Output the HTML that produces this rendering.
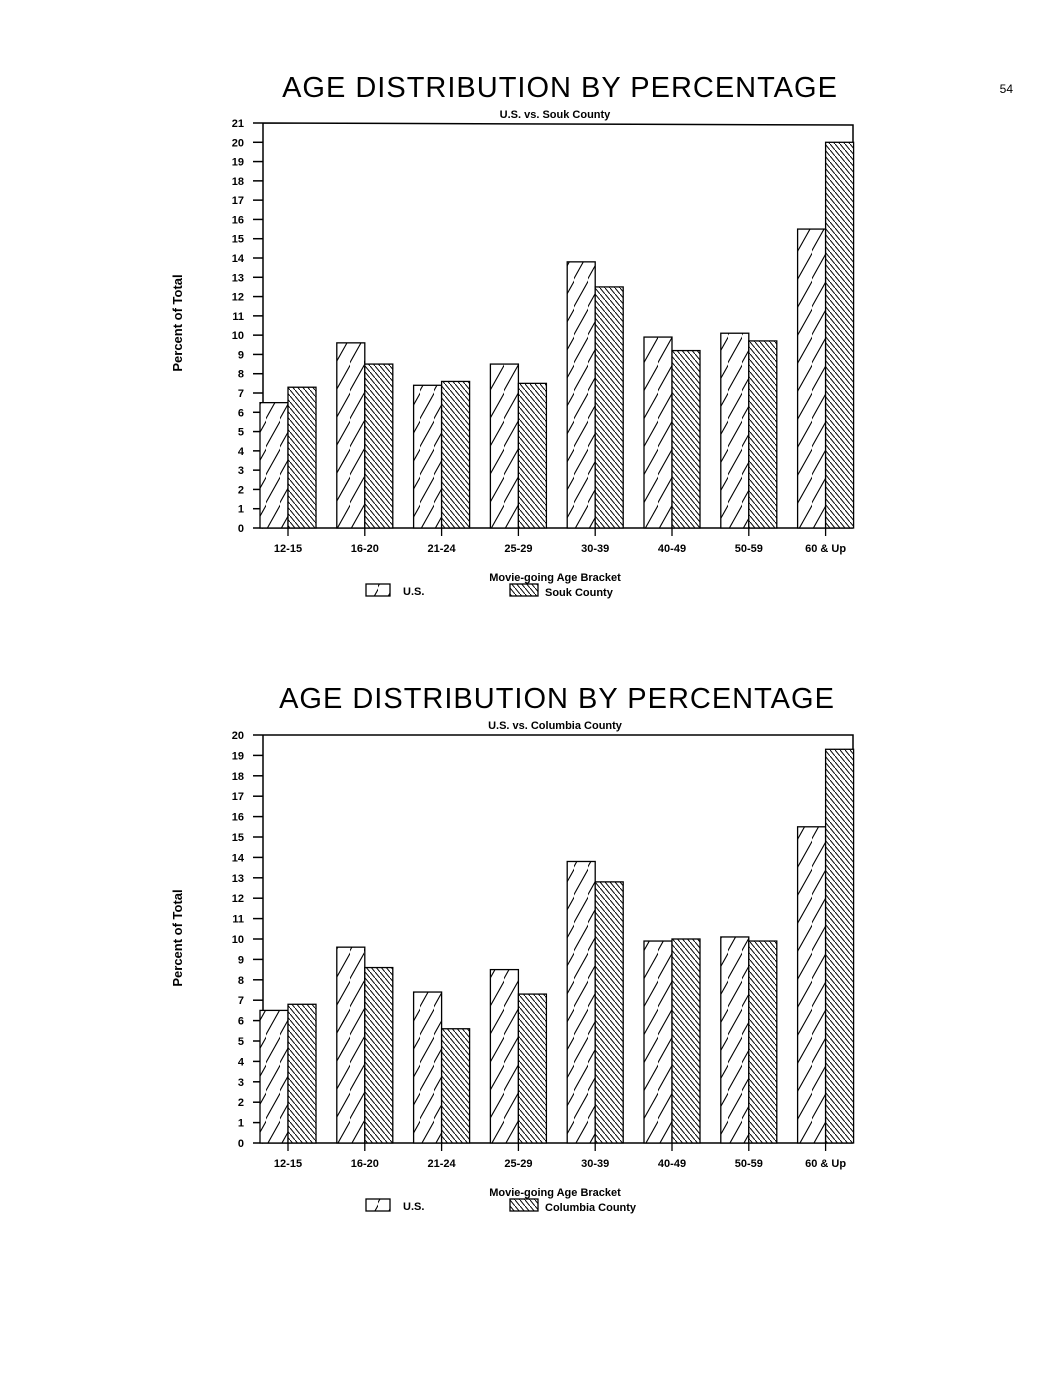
<!DOCTYPE html>
<html><head><meta charset="utf-8"><style>
html,body{margin:0;padding:0;background:#fff;}
svg{display:block;font-family:"Liberation Sans",sans-serif;}
</style></head><body>
<svg width="1064" height="1380" viewBox="0 0 1064 1380" xmlns="http://www.w3.org/2000/svg">
<defs>
<pattern id="us" patternUnits="userSpaceOnUse" width="14" height="28"><rect width="14" height="28" fill="#fff"/><path d="M-2,30 L16,-2" stroke="#000" stroke-width="1.1"/></pattern>
<pattern id="co" patternUnits="userSpaceOnUse" width="5" height="6"><rect width="5" height="6" fill="#fff"/><path d="M0,0 L5,6" stroke="#000" stroke-width="1"/></pattern>
</defs>
<text x="1013" y="93" font-size="12" text-anchor="end">54</text>
<g id="c1">
<text x="560" y="97" font-size="29" text-anchor="middle" letter-spacing="1">AGE DISTRIBUTION BY PERCENTAGE</text>
<text x="555" y="118" font-size="11" text-anchor="middle" font-weight="bold">U.S. vs. Souk County</text>
<text transform="translate(182,323) rotate(-90)" font-size="13" text-anchor="middle" font-weight="bold">Percent of Total</text>
<g stroke="#000" stroke-width="1.5" fill="none">
<path d="M263,123 L853,125 L853,528 M263,123 L263,528 L853,528"/>
</g>
<g font-size="11" text-anchor="end" font-weight="bold">
<script>/*noop*/</script>
</g>
<g id="ax1"></g>
</g>
<g id="c2">
<text x="557" y="708" font-size="29" text-anchor="middle" letter-spacing="1">AGE DISTRIBUTION BY PERCENTAGE</text>
<text x="555" y="729" font-size="11" text-anchor="middle" font-weight="bold">U.S. vs. Columbia County</text>
<text transform="translate(182,938) rotate(-90)" font-size="13" text-anchor="middle" font-weight="bold">Percent of Total</text>
<path d="M263,735 L853,735 L853,1143 M263,735 L263,1143 L853,1143" stroke="#000" stroke-width="1.5" fill="none"/>
</g>
<g id="gen"></g>
</svg>
<script>
(function(){
var ns="http://www.w3.org/2000/svg",g=document.getElementById("gen");
function el(t,a,txt){var e=document.createElementNS(ns,t);for(var k in a)e.setAttribute(k,a[k]);if(txt!=null)e.textContent=txt;g.appendChild(e);return e;}
var cats=["12-15","16-20","21-24","25-29","30-39","40-49","50-59","60 & Up"];
function chart(top,bot,max,us,co,name){
 var u=(bot-top)/max;
 for(var i=0;i<=max;i++){var y=bot-i*u;el("line",{x1:253,x2:263,y1:y,y2:y,stroke:"#000","stroke-width":1.5});
  el("text",{x:244,y:y+4,"font-size":11,"text-anchor":"end","font-weight":"bold"},String(i));}
 for(var j=0;j<8;j++){var x0=260+j*76.8;
  el("rect",{x:x0,y:bot-us[j]*u,width:28,height:us[j]*u,fill:"url(#us)",stroke:"#000","stroke-width":1.3});
  el("rect",{x:x0+28,y:bot-co[j]*u,width:28,height:co[j]*u,fill:"url(#co)",stroke:"#000","stroke-width":1.3});
  el("line",{x1:x0+28,x2:x0+28,y1:bot,y2:bot+8,stroke:"#000","stroke-width":1.3});
  el("text",{x:x0+28,y:bot+24,"font-size":11,"text-anchor":"middle","font-weight":"bold"},cats[j]);}
 el("text",{x:555,y:bot+53,"font-size":11,"text-anchor":"middle","font-weight":"bold"},"Movie-going Age Bracket");
 el("rect",{x:366,y:bot+56,width:24,height:12,fill:"url(#us)",stroke:"#000","stroke-width":1.3});
 el("text",{x:403,y:bot+67,"font-size":11,"font-weight":"bold"},"U.S.");
 el("rect",{x:510,y:bot+56,width:28,height:12,fill:"url(#co)",stroke:"#000","stroke-width":1.3});
 el("text",{x:545,y:bot+68,"font-size":11,"font-weight":"bold"},name);
}
var us=[6.5,9.6,7.4,8.5,13.8,9.9,10.1,15.5];
chart(123,528,21,us,[7.3,8.5,7.6,7.5,12.5,9.2,9.7,20.0],"Souk County");
chart(735,1143,20,us,[6.8,8.6,5.6,7.3,12.8,10.0,9.9,19.3],"Columbia County");
})();
</script>
</body></html>
